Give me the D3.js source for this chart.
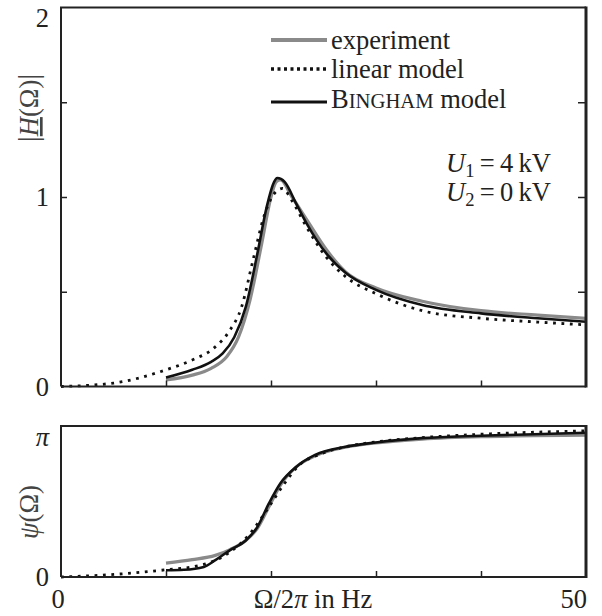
<!DOCTYPE html>
<html>
<head>
<meta charset="utf-8">
<script src="https://cdn.jsdelivr.net/npm/d3@7"></script>
<style>
  body { margin: 0; background: #fff; }
  svg { display: block; font-family: "Liberation Serif", "DejaVu Serif", serif; }
</style>
</head>
<body>
<div class="main"></div>
<script>
(function() {
  'use strict';

  // magnitude |H|
  var linFreq = [0, 5, 10, 12.5, 14.5, 16, 17.2, 18.3, 19.4, 20.5, 21.1, 22, 23.4, 25.3, 27.1, 30, 34.4, 40, 45.4, 50];
  var linMag  = [0, 0.018, 0.088, 0.14, 0.2, 0.29, 0.42, 0.67, 0.91, 1.03, 1.045, 0.98, 0.84, 0.68, 0.58, 0.49, 0.40, 0.36, 0.34, 0.325];

  var binFreq = [10, 12.5, 14.3, 15.4, 16.5, 17.6, 18.7, 19.6, 20.3, 20.6, 21.3, 22.4, 23.4, 25.3, 27.1, 30, 34.4, 40, 45.4, 50];
  var binMag  = [0.047, 0.088, 0.13, 0.175, 0.26, 0.42, 0.70, 0.95, 1.08, 1.10, 1.08, 0.965, 0.86, 0.70, 0.60, 0.51, 0.43, 0.386, 0.36, 0.342];

  var expFreq = [10, 12.5, 14.3, 15.8, 16.9, 18, 19.1, 20, 20.5, 20.9, 22, 23.4, 25.3, 27.1, 30, 34.4, 40, 45.4, 50];
  var expMag  = [0.035, 0.06, 0.096, 0.158, 0.26, 0.456, 0.75, 1.0, 1.08, 1.09, 1.0, 0.88, 0.72, 0.605, 0.52, 0.45, 0.40, 0.377, 0.36];

  // phase psi
  var linPhFreq = [0, 5.2, 10, 12.5, 14.3, 16.1, 18, 19.8, 21.3, 22.7, 24.5, 27.1, 30, 34.4, 40, 50];
  var linPh     = [0, 0.056, 0.15, 0.21, 0.31, 0.52, 0.90, 1.46, 1.95, 2.33, 2.54, 2.71, 2.81, 2.90, 2.97, 3.04];

  var binPhFreq = [10, 11.7, 13.6, 14.7, 16.1, 17.6, 18.7, 19.8, 20.9, 22.4, 24.2, 27.1, 30, 34.4, 40, 50];
  var binPh     = [0.14, 0.15, 0.21, 0.35, 0.56, 0.76, 1.04, 1.53, 1.95, 2.29, 2.54, 2.71, 2.80, 2.89, 2.94, 3.0];

  var expPhFreq = [10, 12.5, 14.7, 16.1, 17.6, 18.7, 19.8, 20.9, 22.4, 24.2, 27.1, 30, 34.4, 40, 50];
  var expPh     = [0.29, 0.36, 0.45, 0.57, 0.76, 1.01, 1.46, 1.91, 2.29, 2.52, 2.70, 2.79, 2.87, 2.92, 2.95];

  var xTicks = [0, 10, 20, 30, 40, 50];
  var xTickLabels = ["0", "", "", "", "", "50"];
  var magTicks = [0, 0.5, 1, 1.5, 2];
  var magTickLabels = ["0", "", "1", "", "2"];
  var phTicks = [0, Math.PI];
  var phTickLabels = ["0", "π"];
  var legendLabels = ["experiment", "linear model", "Bingham model"];

  var fs = 26.5;
  var ink = "#222";

  var svg = d3.select(".main")
    .append("svg")
      .attr("width", 602)
      .attr("height", 616);

  var x = d3.scaleLinear().domain([0, 50]).range([61, 586]);
  var yMag = d3.scaleLinear().domain([0, 2]).range([386.5, 7.5]);
  var yPh = d3.scaleLinear().domain([0, Math.PI]).range([577, 426]);

  function zip(a, b) { return a.map(function(v, i) { return [v, b[i]]; }); }

  var styles = {
    exp: { stroke: "#8a8a8a", width: 3.2, dash: null },
    lin: { stroke: "#111", width: 2.8, dash: "2.8,5.6" },
    bin: { stroke: "#111", width: 2.6, dash: null }
  };

  function drawPanel(y, series) {
    var g = svg.append("g");
    var line = d3.line()
      .x(function(d) { return x(d[0]); })
      .y(function(d) { return y(d[1]); })
      .curve(d3.curveMonotoneX);
    series.forEach(function(s) {
      g.append("path")
        .datum(s.data)
        .attr("d", line)
        .style("fill", "none")
        .style("stroke", s.style.stroke)
        .style("stroke-width", s.style.width)
        .style("stroke-dasharray", s.style.dash)
        .style("stroke-linejoin", "round");
    });
    return g;
  }

  drawPanel(yMag, [
    { data: zip(expFreq, expMag), style: styles.exp },
    { data: zip(linFreq, linMag), style: styles.lin },
    { data: zip(binFreq, binMag), style: styles.bin }
  ]);
  drawPanel(yPh, [
    { data: zip(expPhFreq, expPh), style: styles.exp },
    { data: zip(linPhFreq, linPh), style: styles.lin },
    { data: zip(binPhFreq, binPh), style: styles.bin }
  ]);

  // inward ticks
  function tickAxes(y, yt) {
    var top = y.range()[1], bot = y.range()[0];
    svg.append("g")
      .attr("transform", "translate(0," + bot + ")")
      .call(d3.axisBottom(x).tickValues([10, 20, 30, 40]).tickSize(-6).tickFormat(""))
      .call(function(a) { a.select(".domain").remove(); a.selectAll("line").style("stroke", ink).style("stroke-width", 1.5); });
    if (yt) {
      svg.append("g")
        .attr("transform", "translate(" + x.range()[0] + ",0)")
        .call(d3.axisLeft(y).tickValues(yt).tickSize(-6).tickFormat(""))
        .call(function(a) { a.select(".domain").remove(); a.selectAll("line").style("stroke", ink).style("stroke-width", 1.5); });
      svg.append("g")
        .attr("transform", "translate(" + x.range()[1] + ",0)")
        .call(d3.axisRight(y).tickValues(yt).tickSize(-8).tickFormat(""))
        .call(function(a) { a.select(".domain").remove(); a.selectAll("line").style("stroke", ink).style("stroke-width", 1.5); });
    }
    // frame
    svg.append("path")
      .attr("d", "M" + x.range()[0] + "," + bot + "V" + top + "H" + x.range()[1])
      .style("fill", "none").style("stroke", ink).style("stroke-width", 2);
    svg.append("line")
      .attr("x1", x.range()[1]).attr("x2", x.range()[1])
      .attr("y1", top - 1).attr("y2", bot + 1)
      .style("stroke", ink).style("stroke-width", 3);
    svg.append("line")
      .attr("x1", x.range()[0]).attr("x2", x.range()[1])
      .attr("y1", bot).attr("y2", bot)
      .style("stroke", ink).style("stroke-width", 2);
  }
  tickAxes(yMag, [0.5, 1, 1.5]);
  tickAxes(yPh, null);

  function label(tx, ty, anchor) {
    return svg.append("text")
      .attr("x", tx).attr("y", ty)
      .style("text-anchor", anchor)
      .style("font-size", fs + "px")
      .style("fill", ink);
  }

  // y tick labels
  magTicks.forEach(function(v, i) {
    if (!magTickLabels[i]) return;
    var yy = yMag(v) + 9;
    if (v === 2) yy += 10;
    label(49, yy, "end").text(magTickLabels[i]);
  });
  phTicks.forEach(function(v, i) {
    var yy = yPh(v) + 9;
    if (i === 1) yy += 11;
    label(49, yy, "end").text(phTickLabels[i]).style("font-style", i === 1 ? "italic" : "normal");
  });
  // x tick labels
  xTicks.forEach(function(v, i) {
    if (!xTickLabels[i]) return;
    label(i === 0 ? x(v) - 3 : x(v) + 1, 608, i === 0 ? "middle" : "end").text(xTickLabels[i]);
  });

  // axis titles
  var xl = label(313, 608, "middle");
  xl.append("tspan").text("Ω/2");
  xl.append("tspan").style("font-style", "italic").text("π");
  xl.append("tspan").text(" in Hz");

  var hl = svg.append("text")
    .attr("transform", "translate(38,108) rotate(-90)")
    .style("text-anchor", "middle")
    .style("font-size", fs + "px")
    .style("fill", "#444");
  hl.append("tspan").style("font-size", (fs * 1.15) + "px").text("|");
  hl.append("tspan").style("font-style", "italic").style("text-decoration", "underline").text("H");
  hl.append("tspan").text("(Ω)");
  hl.append("tspan").style("font-size", (fs * 1.15) + "px").text("|");

  var pl = svg.append("text")
    .attr("transform", "translate(38,512) rotate(-90)")
    .style("text-anchor", "middle")
    .style("font-size", fs + "px")
    .style("fill", "#444");
  pl.append("tspan").style("font-style", "italic").text("ψ");
  pl.append("tspan").text("(Ω)");

  // voltage note
  [["1", "4"], ["2", "0"]].forEach(function(p, i) {
    var t = label(551, 172 + i * 29, "end");
    t.append("tspan").style("font-style", "italic").text("U");
    t.append("tspan").attr("dy", 5).style("font-size", (fs * 0.7) + "px").text(p[0]);
    t.append("tspan").attr("dy", -5).text("\u2009=\u2009" + p[1] + "\u2009kV");
  });

  // legend
  var legStyles = [styles.exp, styles.lin, styles.bin];
  var legLineY = [40, 69, 102];
  var legTextY = [49, 78, 108];
  legendLabels.forEach(function(name, i) {
    var s = legStyles[i];
    svg.append("line")
      .attr("x1", 271).attr("x2", 327)
      .attr("y1", legLineY[i]).attr("y2", legLineY[i])
      .style("stroke", s.stroke)
      .style("stroke-width", s.width + 0.6)
      .style("stroke-dasharray", s.dash ? "3,3.5" : null);
    var t = label(331, legTextY[i], "start");
    if (i === 2) {
      // small caps only on the name
      var parts = name.split(" ");
      t.append("tspan").text(parts[0].charAt(0));
      t.append("tspan").style("font-size", (fs * 0.78) + "px").text(parts[0].slice(1).toUpperCase());
      t.append("tspan").text(" " + parts[1]);
    } else {
      t.text(name);
    }
  });

})();
</script>
</body>
</html>
